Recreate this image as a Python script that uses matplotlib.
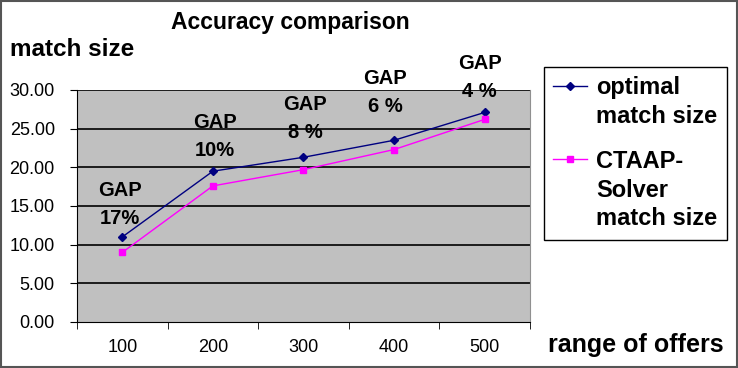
import matplotlib.pyplot as plt
from matplotlib.patches import Rectangle
from matplotlib.legend_handler import HandlerLine2D

offers = ["100", "200", "300", "400", "500"]
optimal = [11.0, 19.5, 21.3, 23.5, 27.1]
ctaap = [9.0, 17.6, 19.7, 22.3, 26.2]
gaps = ["17%", "10%", "8 %", "6 %", "4 %"]
yticks = [0, 5, 10, 15, 20, 25, 30]

plt.rcParams['font.family'] = ['Liberation Sans', 'DejaVu Sans']


class TopHandler(HandlerLine2D):
    # put the legend marker next to the first line of a multi-line label
    def __init__(self, shift, **kw):
        super().__init__(**kw)
        self.shift = shift

    def create_artists(self, legend, orig_handle, xdescent, ydescent, width, height, fontsize, trans):
        return super().create_artists(legend, orig_handle, xdescent, ydescent - self.shift,
                                      width, height, fontsize, trans)


fig = plt.figure(figsize=(7.38, 3.68), dpi=100)
ax = fig.add_axes([77 / 738, 1 - 322 / 368, 453 / 738, 232 / 368])
ax.set_facecolor('#c0c0c0')

x = list(range(len(offers)))
l1, = ax.plot(x, optimal, color='#000080', marker='D', markersize=4.5, lw=1, label='optimal\nmatch size')
l2, = ax.plot(x, ctaap, color='#ff00ff', marker='s', markersize=5, lw=1, label='CTAAP-\nSolver\nmatch size')

for v in yticks[1:]:
    ax.axhline(v, color='black', lw=1.2, zorder=1)

ax.set_xlim(-0.5, len(offers) - 0.5)
ax.set_ylim(0, 30)
ax.set_yticks(yticks)
ax.set_yticklabels([f"{v:.2f}" for v in yticks], fontsize=13)
ax.set_xticks(x)
ax.set_xticklabels(offers, fontsize=13)
ax.set_xticks([i - 0.5 for i in range(len(offers) + 1)], minor=True)
ax.tick_params(axis='x', which='major', length=0, pad=12)
ax.tick_params(axis='x', which='minor', length=5, direction='out')
ax.tick_params(axis='y', length=5, direction='out', pad=11)
ax.spines['top'].set_visible(False)
ax.spines['right'].set_color('#909090')

offs = [32, 35, 39, 48, 35]
dx = [-2, 2, 2, -9, -5]
for i, g in enumerate(gaps):
    ax.annotate("GAP\n" + g, (x[i], optimal[i]), xytext=(dx[i], offs[i]), textcoords='offset pixels',
                ha='center', va='center', fontsize=14.5, fontweight='bold', linespacing=1.6)

fig.text(290 / 738, 1 - 22 / 368, "Accuracy comparison", ha='center', va='center', fontsize=16.5, fontweight='bold')
fig.text(10 / 738, 1 - 50 / 368, "match size", ha='left', va='center', fontsize=17.5, fontweight='bold')
fig.text(548 / 738, 1 - 345 / 368, "range of offers", ha='left', va='center', fontsize=18, fontweight='bold')

leg = fig.legend(loc='upper left', bbox_to_anchor=(544 / 738, 1 - 67 / 368), borderaxespad=0,
                 handler_map={l1: TopHandler(24), l2: TopHandler(46)},
                 fancybox=False, edgecolor='black', prop={'weight': 'bold', 'size': 17},
                 handlelength=1.4, handletextpad=0.4, labelspacing=0.95, borderpad=0.4, framealpha=1)
leg.get_frame().set_linewidth(1)
for t in leg.get_texts():
    t.set_linespacing(1.3)

fig.patches.append(Rectangle((0.002, 0.003), 0.996, 0.994, transform=fig.transFigure, fill=False,
                             edgecolor='#555555', lw=1.5))

fig.savefig('out.png', dpi=100)
